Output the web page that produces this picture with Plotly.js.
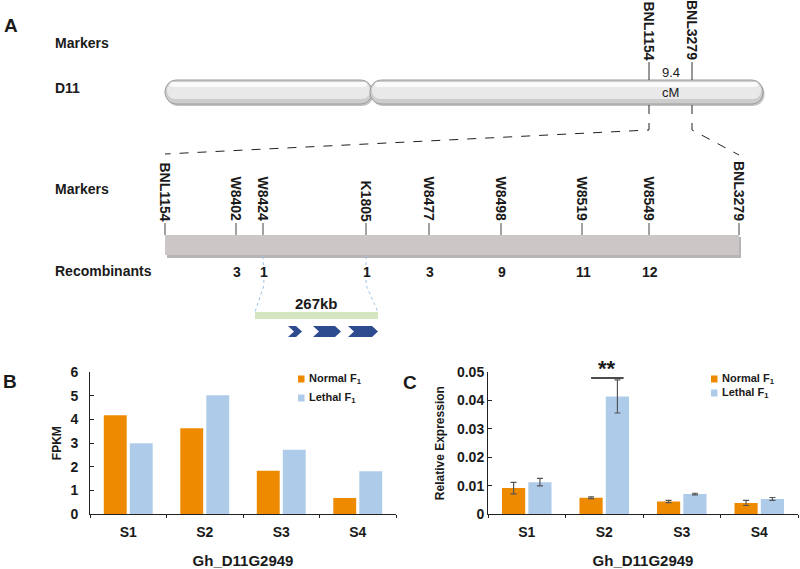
<!DOCTYPE html>
<html>
<head>
<meta charset="utf-8">
<script src="https://cdn.plot.ly/plotly-3.0.1.min.js"></script>
<style>
  html, body { margin: 0; padding: 0; background: #fff; }
  #chart { width: 800px; height: 569px; }
</style>
</head>
<body>
<div id="chart"></div>
<script>
// ---- bar chart data (B and C) ----
const categories = ['S1', 'S2', 'S3', 'S4'];
const seriesNames = ['Normal F<sub>1</sub>', 'Lethal F<sub>1</sub>'];

const fpkmNormal = [4.18, 3.63, 1.84, 0.69];
const fpkmLethal = [3.0, 5.02, 2.72, 1.82];

const relNormal = [0.0092, 0.0058, 0.0045, 0.0040];
const relNormalErr = [0.0020, 0.0003, 0.0004, 0.0009];
const relLethal = [0.0113, 0.0414, 0.0071, 0.0054];
const relLethalErr = [0.0013, 0.0058, 0.0003, 0.0005];

const geneName = 'Gh_D11G2949';

// ---- genetic map data (A) ----
const chromName = 'D11';
const chromSegments = [[165, 372], [370, 763]];
const chromMarkers = ['BNL1154', 'BNL3279'];
const chromMarkerPos = [649, 692];
const intervalText = ['9.4', 'cM'];

const fineMarkers = ['BNL1154', 'W8402', 'W8424', 'K1805', 'W8477',
  'W8498', 'W8519', 'W8549', 'BNL3279'];
const fineMarkerPos = [165, 236, 263, 366, 429, 501, 582, 649, 739];
const recombinants = ['', '3', '1', '1', '3', '9', '11', '12', ''];

const candidateFrom = 2;
const candidateTo = 3;
const candidateLabel = '267kb';
const geneArrows = [[288, 302], [313, 341], [348, 378]];

const ORANGE = '#ee8a00';
const BLUE = '#aecbea';
const INK = '#1a1a1a';
const FONT = 'Arial, "Liberation Sans", sans-serif';

const W = 800;
const H = 569;

function paperY(py) {
  return 1 - py / H;
}

function txt(x, y, text, size, extra) {
  return Object.assign({
    x: x,
    y: y,
    xref: 'x3',
    yref: 'y3',
    text: text,
    showarrow: false,
    font: { family: FONT, size: size, color: INK }
  }, extra || {});
}

function pill(x0, x1, y0, y1) {
  const r = (y1 - y0) / 2;
  const k = r * 4 / 3;
  return `M ${x0 + r},${y0} L ${x1 - r},${y0} ` +
    `C ${x1 - r + k},${y0} ${x1 - r + k},${y1} ${x1 - r},${y1} ` +
    `L ${x0 + r},${y1} ` +
    `C ${x0 + r - k},${y1} ${x0 + r - k},${y0} ${x0 + r},${y0} Z`;
}

function chevron(x0, x1, y0, y1) {
  const d = 6;
  const ym = (y0 + y1) / 2;
  return `M ${x0},${y0} L ${x1 - d},${y0} L ${x1},${ym} ` +
    `L ${x1 - d},${y1} L ${x0},${y1} L ${x0 + d},${ym} Z`;
}

const shapes = [];
const annotations = [];

function mapShape(s) {
  shapes.push(Object.assign({ xref: 'x3', yref: 'y3', layer: 'above' }, s));
}

// chromosome
const cTop = 80;
const cBot = 104;

chromSegments.forEach(seg => {
  mapShape({
    type: 'path',
    path: pill(seg[0] + 1.5, seg[1] + 1.5, cTop + 2, cBot + 2),
    fillcolor: 'rgba(120,120,120,0.45)',
    line: { width: 0 }
  });
});

chromSegments.forEach(seg => {
  mapShape({
    type: 'path',
    path: pill(seg[0], seg[1], cTop, cBot),
    fillcolor: '#cdcdcd',
    line: { color: '#9c9c9c', width: 1 }
  });
  mapShape({
    type: 'path',
    path: pill(seg[0] + 2, seg[1] - 2, cTop + 2, cBot - 5),
    fillcolor: '#e9e9e9',
    line: { width: 0 }
  });
  mapShape({
    type: 'path',
    path: pill(seg[0] + 5, seg[1] - 5, cTop + 2, cTop + 7),
    fillcolor: '#fafafa',
    line: { width: 0 }
  });
});

chromMarkers.forEach((m, i) => {
  const x = chromMarkerPos[i];
  mapShape({
    type: 'line',
    x0: x, x1: x, y0: 62, y1: cTop,
    line: { color: '#333', width: 1 }
  });
  annotations.push(txt(x, 62, '<b>' + m + '</b>', 14, {
    textangle: 90, xanchor: 'center', yanchor: 'bottom'
  }));
});

const midChrom = (chromMarkerPos[0] + chromMarkerPos[1]) / 2;
annotations.push(txt(midChrom, 72, intervalText[0], 13));
annotations.push(txt(midChrom, 92, intervalText[1], 13));

// zoom lines from chromosome to fine map
const barLeft = fineMarkerPos[0];
const barRight = fineMarkerPos[fineMarkerPos.length - 1];

mapShape({
  type: 'path',
  path: `M ${chromMarkerPos[0]},${cBot + 1} L ${chromMarkerPos[0]},130 L ${barLeft},154`,
  line: { color: '#222', width: 1, dash: 'dash' }
});
mapShape({
  type: 'path',
  path: `M ${chromMarkerPos[1]},${cBot + 1} L ${chromMarkerPos[1]},130 L ${barRight},155`,
  line: { color: '#222', width: 1, dash: 'dash' }
});

// fine map bar
const bTop = 235;
const bBot = 255;

mapShape({
  type: 'rect',
  x0: barLeft + 2, x1: barRight + 2, y0: bTop + 2, y1: bBot + 3,
  fillcolor: 'rgba(110,106,106,0.5)',
  line: { width: 0 }
});
mapShape({
  type: 'rect',
  x0: barLeft, x1: barRight, y0: bTop, y1: bBot,
  fillcolor: '#cbc7c7',
  line: { width: 0 }
});

fineMarkers.forEach((m, i) => {
  const x = fineMarkerPos[i];
  mapShape({
    type: 'line',
    x0: x, x1: x, y0: 223, y1: bTop,
    line: { color: '#444', width: 1 }
  });
  annotations.push(txt(x, 223, '<b>' + m + '</b>', 14, {
    textangle: 90, xanchor: 'center', yanchor: 'bottom'
  }));
  if (recombinants[i]) {
    annotations.push(txt(x + 1, 272, '<b>' + recombinants[i] + '</b>', 14));
  }
});

// candidate region
const cx0 = fineMarkerPos[candidateFrom];
const cx1 = fineMarkerPos[candidateTo];
const regionLeft = 255;
const regionRight = 378;

mapShape({
  type: 'path',
  path: `M ${cx0},${bBot + 1} L ${cx0 + 1},285 L ${regionLeft},312`,
  line: { color: '#9dc3e6', width: 1, dash: 'dot' }
});
mapShape({
  type: 'path',
  path: `M ${cx1},${bBot + 1} L ${cx1},285 L ${regionRight},312`,
  line: { color: '#9dc3e6', width: 1, dash: 'dot' }
});
mapShape({
  type: 'rect',
  x0: regionLeft, x1: regionRight, y0: 312, y1: 319,
  fillcolor: '#d4e5bf',
  line: { width: 0 }
});
annotations.push(txt((regionLeft + regionRight) / 2, 303,
  '<b>' + candidateLabel + '</b>', 15));

geneArrows.forEach(g => {
  mapShape({
    type: 'path',
    path: chevron(g[0], g[1], 326, 337),
    fillcolor: '#2f4b8f',
    line: { width: 0 }
  });
});

// row labels and panel letters
annotations.push(txt(53, 43, '<b>Markers</b>', 14, { xanchor: 'left' }));
annotations.push(txt(53, 88, '<b>' + chromName + '</b>', 14, { xanchor: 'left' }));
annotations.push(txt(53, 189, '<b>Markers</b>', 14, { xanchor: 'left' }));
annotations.push(txt(53, 271, '<b>Recombinants</b>', 14, { xanchor: 'left' }));
annotations.push(txt(11, 25, '<b>A</b>', 19));
annotations.push(txt(10, 381, '<b>B</b>', 19));
annotations.push(txt(410, 382, '<b>C</b>', 19));

// hand-made legends
function legend(x, yRows) {
  [ORANGE, BLUE].forEach((c, i) => {
    mapShape({
      type: 'rect',
      x0: x, x1: x + 6.5, y0: yRows[i] - 3.5, y1: yRows[i] + 3.5,
      fillcolor: c,
      line: { width: 0 }
    });
    annotations.push(txt(x + 9, yRows[i], '<b>' + seriesNames[i] + '</b>', 11, {
      xanchor: 'left'
    }));
  });
}
legend(298, [379, 398]);
legend(711, [379, 393]);

// significance mark on S2 in panel C
shapes.push({
  type: 'line',
  xref: 'x2', yref: 'y2',
  x0: 0.83, x1: 1.25, y0: 0.0479, y1: 0.0479,
  line: { color: '#111', width: 1.5 }
});
annotations.push({
  x: 1.04, y: 0.0479, xref: 'x2', yref: 'y2',
  text: '<b>**</b>', showarrow: false,
  yanchor: 'bottom', yshift: -5,
  font: { family: FONT, size: 22, color: INK }
});

const errStyle = { type: 'data', color: '#555', thickness: 1.2, width: 3 };

const traces = [
  {
    type: 'bar', x: categories, y: fpkmNormal, name: seriesNames[0],
    marker: { color: ORANGE }, xaxis: 'x', yaxis: 'y', hoverinfo: 'y'
  },
  {
    type: 'bar', x: categories, y: fpkmLethal, name: seriesNames[1],
    marker: { color: BLUE }, xaxis: 'x', yaxis: 'y', hoverinfo: 'y'
  },
  {
    type: 'bar', x: categories, y: relNormal, name: seriesNames[0],
    marker: { color: ORANGE }, xaxis: 'x2', yaxis: 'y2',
    error_y: Object.assign({ array: relNormalErr }, errStyle)
  },
  {
    type: 'bar', x: categories, y: relLethal, name: seriesNames[1],
    marker: { color: BLUE }, xaxis: 'x2', yaxis: 'y2',
    error_y: Object.assign({ array: relLethalErr }, errStyle)
  },
  {
    type: 'scatter', x: [], y: [], xaxis: 'x3', yaxis: 'y3',
    showlegend: false, hoverinfo: 'skip'
  }
];

const plotBottom = paperY(514.3);
const plotTop = paperY(372);

function catAxis(domain, anchor) {
  return {
    domain: domain,
    anchor: anchor,
    type: 'category',
    showline: true,
    linecolor: '#222',
    linewidth: 1,
    ticks: 'outside',
    tickson: 'boundaries',
    ticklen: 3,
    tickcolor: '#222',
    showgrid: false,
    ticklabelstandoff: 5,
    tickfont: { family: FONT, size: 14, color: INK, weight: 'bold' },
    title: {
      text: '<b>' + geneName + '</b>',
      font: { family: FONT, size: 15, color: INK },
      standoff: 18
    }
  };
}

function valAxis(anchor, range, dtick, title, labelGap, titleGap) {
  return {
    domain: [plotBottom, plotTop],
    anchor: anchor,
    range: range,
    dtick: dtick,
    showline: true,
    linecolor: '#222',
    linewidth: 1,
    ticks: 'inside',
    ticklen: 4,
    tickcolor: '#222',
    showgrid: false,
    zeroline: false,
    ticklabelstandoff: labelGap,
    tickfont: { family: FONT, size: 14, color: INK, weight: 'bold' },
    title: {
      text: '<b>' + title + '</b>',
      font: { family: FONT, size: 12, color: INK },
      standoff: titleGap
    }
  };
}

const layout = {
  width: W,
  height: H,
  margin: { l: 0, r: 0, t: 0, b: 0 },
  paper_bgcolor: '#ffffff',
  plot_bgcolor: 'rgba(0,0,0,0)',
  showlegend: false,
  barmode: 'group',
  bargap: 0.32,
  bargroupgap: 0.12,
  font: { family: FONT, color: INK },
  xaxis: catAxis([90 / W, 396 / W], 'y'),
  yaxis: valAxis('x', [0, 6], 1, 'FPKM', 8, 6),
  xaxis2: catAxis([488 / W, 798 / W], 'y2'),
  yaxis2: valAxis('x2', [0, 0.05], 0.01, 'Relative Expression', 0, 9),
  xaxis3: {
    domain: [0, 1], anchor: 'y3', range: [0, W],
    visible: false, fixedrange: true
  },
  yaxis3: {
    domain: [0, 1], anchor: 'x3', range: [H, 0],
    visible: false, fixedrange: true
  },
  shapes: shapes,
  annotations: annotations
};

Plotly.newPlot('chart', traces, layout, { displayModeBar: false, staticPlot: true });
</script>
</body>
</html>
